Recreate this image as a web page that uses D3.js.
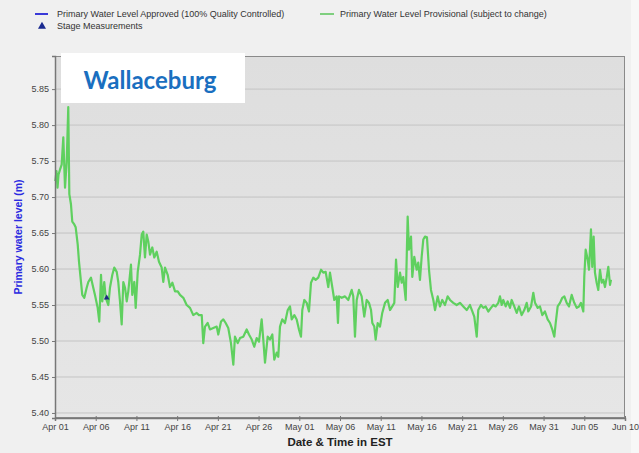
<!DOCTYPE html>
<html><head><meta charset="utf-8">
<script src="https://cdn.jsdelivr.net/npm/d3@7"></script>
<style>
html,body{margin:0;padding:0;background:#f0f0f0;}
svg{display:block;}
</style></head>
<body>
<script>
// ---- DATA ----
const startDate = "2019-04-01";
// days since Apr 01 00:00 EST
const dayOffsets = [
0.04,0.18,0.31,0.43,0.61,0.82,1.02,1.23,1.44,1.63,1.76,1.96,2.12,2.37,2.54,2.79,2.95,3.19,3.35,3.60,
3.89,4.09,4.42,4.70,4.91,5.24,5.44,5.65,5.81,6.05,6.23,6.55,6.75,7.04,7.28,7.58,7.77,7.98,8.19,8.39,
8.60,8.81,9.00,9.33,9.49,9.74,9.91,10.16,10.44,10.65,10.84,11.05,11.26,11.46,11.67,11.95,12.19,12.49,12.77,13.10,
13.30,13.51,13.84,14.12,14.41,14.74,15.07,15.35,15.76,16.17,16.58,16.98,17.40,17.68,
18.02,18.21,18.42,18.75,19.03,19.44,19.86,20.05,20.39,20.67,20.96,21.28,21.61,21.90,22.10,22.44,22.72,23.12,23.54,23.82,
24.16,24.47,24.77,25.05,25.38,25.58,25.79,26.12,26.40,26.69,26.93,27.23,27.42,27.63,27.91,28.24,28.58,28.86,29.07,29.39,
29.68,29.96,30.21,30.37,30.62,30.91,31.19,31.44,31.72,32.01,32.33,32.67,32.95,33.24,33.56,33.77,34.05,34.30,34.59,34.75,
34.88,35.21,35.61,36.02,36.44,36.63,36.84,37.05,37.33,37.66,37.98,38.28,38.56,38.81,38.97,39.21,39.38,39.63,39.91,40.19,
40.53,40.86,41.14,41.42,41.67,41.88,42.09,42.37,42.58,42.77,43.07,43.31,43.47,43.72,43.88,44.12,44.42,44.61,44.82,45.03,
45.23,45.44,45.68,45.93,46.17,46.46,46.67,47.00,47.28,47.56,47.89,48.22,48.51,48.91,49.33,49.73,50.14,50.56,50.96,51.25,
51.49,51.79,
51.98,52.31,52.60,52.89,53.21,53.54,53.83,54.12,54.44,54.65,54.86,55.05,55.35,55.59,55.88,56.08,56.40,56.70,56.98,57.31,
57.63,57.93,58.12,58.46,58.74,58.95,59.28,59.56,59.84,60.17,60.50,60.79,61.07,61.32,61.49,61.73,62.02,62.30,62.55,62.84,
63.12,63.45,63.77,64.07,64.35,64.59,64.88,65.00,65.17,65.42,65.58,65.82,65.98,66.15,66.31,66.52,66.72,66.93,67.14,67.34,
67.54,67.75,67.95,68.16,68.28
];
const levels = [
5.722,5.736,5.713,5.731,5.738,5.745,5.783,5.713,5.750,5.825,5.704,5.690,5.666,5.662,5.658,5.634,5.610,5.582,5.564,5.560,
5.574,5.582,5.588,5.574,5.564,5.546,5.527,5.592,5.555,5.582,5.560,5.550,5.574,5.592,5.602,5.596,5.582,5.555,5.523,5.582,
5.574,5.555,5.569,5.606,5.564,5.582,5.546,5.596,5.620,5.648,5.652,5.616,5.648,5.638,5.620,5.630,5.616,5.624,5.610,5.602,
5.582,5.602,5.592,5.575,5.581,5.569,5.569,5.564,5.560,5.550,5.546,5.536,5.539,5.536,
5.536,5.497,5.520,5.525,5.516,5.518,5.520,5.509,5.527,5.530,5.525,5.518,5.497,5.467,5.506,5.497,5.504,5.506,5.516,5.509,
5.502,5.492,5.504,5.499,5.530,5.502,5.470,5.506,5.502,5.509,5.474,5.484,5.478,5.520,5.530,5.525,5.543,5.548,5.530,5.536,
5.530,5.516,5.506,5.543,5.557,5.553,5.541,5.581,5.588,5.585,5.588,5.599,5.595,5.596,5.575,5.595,5.575,5.557,5.562,5.525,
5.562,5.560,5.562,5.557,5.571,5.562,5.506,5.557,5.571,5.562,5.534,5.557,5.553,5.543,5.525,5.520,5.502,5.525,5.520,5.539,
5.553,5.557,5.543,5.548,5.553,5.613,5.575,5.595,5.581,5.589,5.557,5.673,5.627,5.645,5.589,5.617,5.599,5.609,5.585,5.617,
5.641,5.645,5.644,5.599,5.571,5.557,5.543,5.562,5.548,5.557,5.550,5.562,5.557,5.553,5.550,5.553,5.548,5.543,5.550,5.541,
5.534,5.506,
5.543,5.550,5.546,5.548,5.541,5.546,5.550,5.548,5.553,5.562,5.550,5.557,5.548,5.555,5.546,5.557,5.548,5.539,5.548,5.536,
5.543,5.553,5.541,5.548,5.567,5.553,5.546,5.548,5.536,5.541,5.530,5.525,5.516,5.506,5.525,5.548,5.553,5.560,5.562,5.553,
5.548,5.564,5.553,5.546,5.548,5.553,5.541,5.589,5.627,5.613,5.599,5.655,5.603,5.645,5.595,5.581,5.571,5.599,5.581,5.585,
5.575,5.588,5.603,5.578,5.585
];
const stageDays = [6.35];
const stageLevels = [5.560];
const yTicks = [5.40,5.45,5.50,5.55,5.60,5.65,5.70,5.75,5.80,5.85];
const xTickDays = [0,5,10,15,20,25,30,35,40,45,50,55,60,65,70];
const legendItems = ["Primary Water Level Approved (100% Quality Controlled)","Primary Water Level Provisional (subject to change)","Stage Measurements"];
const stationName = "Wallaceburg";
const yTitle = "Primary water level (m)";
const xTitle = "Date & Time in EST";

// ---- CHART ----
const W = 639, H = 453;
const m = {left:55, top:56, right:14, bottom:35};
const t0 = Date.parse(startDate + "T00:00:00Z");
const toDate = d => new Date(t0 + d*864e5);

const svg = d3.select("body").append("svg").attr("width", W).attr("height", H);
svg.append("rect").attr("width", W).attr("height", H).attr("fill", "#f0f0f0");
svg.append("rect").attr("x", 631).attr("width", 8).attr("height", H).attr("fill", "#f7f7f7");

const x = d3.scaleUtc().domain([toDate(0), toDate(70)]).range([m.left, W - m.right]);
const y = d3.scaleLinear().domain([5.393, 5.896]).range([H - m.bottom, m.top]);

// plot background (slight vertical gradient)
const defs = svg.append("defs");
const grad = defs.append("linearGradient").attr("id", "bg").attr("x1", 0).attr("y1", 0).attr("x2", 0).attr("y2", 1);
grad.append("stop").attr("offset", "0%").attr("stop-color", "#dedede");
grad.append("stop").attr("offset", "100%").attr("stop-color", "#e6e6e6");
svg.append("rect").attr("x", m.left).attr("y", m.top)
  .attr("width", x.range()[1]-m.left).attr("height", y.range()[0]-m.top)
  .attr("fill", "url(#bg)");

// grid
svg.append("g").selectAll("line").data(yTicks).join("line")
  .attr("x1", m.left).attr("x2", x.range()[1])
  .attr("y1", d => y(d)).attr("y2", d => y(d))
  .attr("stroke", "#c4c4c4").attr("stroke-width", 1);

// line
const data = dayOffsets.map((d,i) => ({t: toDate(d), v: levels[i]}));
svg.append("path").datum(data)
  .attr("fill", "none").attr("stroke", "#5fd05f").attr("stroke-width", 2.2)
  .attr("stroke-linejoin", "round")
  .attr("d", d3.line().x(d => x(d.t)).y(d => y(d.v)));

// stage measurement
svg.append("g").selectAll("path").data(stageDays).join("path")
  .attr("transform", (d,i) => `translate(${x(toDate(d))},${y(stageLevels[i])})`)
  .attr("d", d3.symbol(d3.symbolTriangle, 14))
  .attr("fill", "#1a2a80");

// border
svg.append("rect").attr("x", m.left+0.5).attr("y", m.top+0.5)
  .attr("width", x.range()[1]-m.left-1).attr("height", y.range()[0]-m.top-1)
  .attr("fill", "none").attr("stroke", "#8a8a8a").attr("stroke-width", 1);

// axes
const fmt = d3.utcFormat("%b %d");
const xAxis = svg.append("g").attr("transform", `translate(0,${y.range()[0]})`)
  .call(d3.axisBottom(x).tickValues(xTickDays.map(toDate)).tickFormat(fmt).tickSize(3).tickPadding(3));
const yAxis = svg.append("g").attr("transform", `translate(${m.left},0)`)
  .call(d3.axisLeft(y).tickValues(yTicks).tickFormat(d3.format(".2f")).tickSize(3).tickPadding(3));
[xAxis, yAxis].forEach(a => {
  a.select(".domain").attr("stroke", "#777").attr("stroke-width", 1.5);
  a.selectAll(".tick line").attr("stroke", "#777");
  a.selectAll("text").attr("fill", "#444").attr("font-family", "Liberation Sans, Arial, sans-serif").attr("font-size", 9);
});
xAxis.selectAll(".tick line").attr("y1", -2).attr("y2", 3);

// axis titles
svg.append("text").attr("x", (m.left + x.range()[1])/2).attr("y", 446)
  .attr("text-anchor", "middle").attr("font-family", "Liberation Sans, Arial, sans-serif")
  .attr("font-weight", "bold").attr("font-size", 11.5).attr("fill", "#222").text(xTitle);
svg.append("text").attr("transform", `translate(22,${(m.top + y.range()[0])/2}) rotate(-90)`)
  .attr("text-anchor", "middle").attr("font-family", "Liberation Sans, Arial, sans-serif")
  .attr("font-weight", "bold").attr("font-size", 10.5).attr("fill", "#2b2be0").text(yTitle);

// legend
const lg = svg.append("g").attr("font-family", "Liberation Sans, Arial, sans-serif").attr("font-size", 9).attr("fill", "#333");
lg.append("line").attr("x1", 35).attr("x2", 48).attr("y1", 14).attr("y2", 14).attr("stroke", "#3a3ad8").attr("stroke-width", 2);
lg.append("text").attr("x", 57).attr("y", 17).text(legendItems[0]);
lg.append("line").attr("x1", 320).attr("x2", 334).attr("y1", 14).attr("y2", 14).attr("stroke", "#7fcf7f").attr("stroke-width", 2);
lg.append("text").attr("x", 340).attr("y", 17).text(legendItems[1]);
lg.append("path").attr("transform", "translate(42,26.5)").attr("d", d3.symbol(d3.symbolTriangle, 28)).attr("fill", "#1a2a90");
lg.append("text").attr("x", 57).attr("y", 29).text(legendItems[2]);

// station title box
svg.append("rect").attr("x", 61).attr("y", 53).attr("width", 184).attr("height", 50).attr("fill", "#ffffff");
svg.append("text").attr("x", 150).attr("y", 89).attr("text-anchor", "middle")
  .attr("font-family", "Lato, 'Open Sans', sans-serif").attr("font-weight", "bold").attr("font-size", 24)
  .attr("fill", "#1a6fc0").text(stationName);
</script>
</body></html>
